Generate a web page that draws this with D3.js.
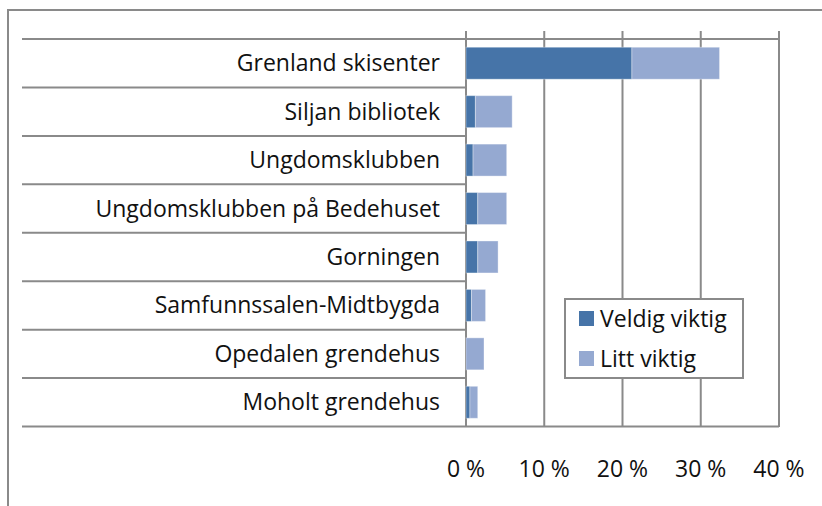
<!DOCTYPE html>
<html>
<head>
<meta charset="utf-8">
<script src="https://cdn.jsdelivr.net/npm/d3@7"></script>
<style>
  body { margin: 0; background: #fff; }
  text { font-family: "Open Sans", "Noto Sans", sans-serif; fill: #111; }
</style>
</head>
<body>
<div id="chart"></div>
<script>
var width = 822;
var height = 506;

// data (percent)
var categories = ["Grenland skisenter", "Siljan bibliotek", "Ungdomsklubben",
  "Ungdomsklubben på Bedehuset", "Gorningen", "Samfunnssalen-Midtbygda",
  "Opedalen grendehus", "Moholt grendehus"];
var veldigViktig = [21.2, 1.2, 0.9, 1.5, 1.5, 0.7, 0, 0.5];
var littViktig = [11.2, 4.7, 4.3, 3.7, 2.6, 1.8, 2.3, 1.0];
var seriesNames = ["Veldig viktig", "Litt viktig"];
var colors = ["#4674a8", "#95a9d1"];
var xTicks = [0, 10, 20, 30, 40];

var svg = d3.select("#chart")
  .append("svg")
  .attr("width", width)
  .attr("height", height)
  .style("display", "block");

var grid = "#8a8a8a";
var fontSize = "23px";

// outer chart frame (cut off at right and bottom)
svg.append("path")
  .attr("d", "M8,506 V10 H822")
  .attr("fill", "none")
  .attr("stroke", grid)
  .attr("stroke-width", 2);

var x = d3.scaleLinear().domain([0, 40]).range([466, 779]);
var y = d3.scaleBand().domain(categories).range([39, 426.5]).paddingInner(0.34).paddingOuter(0.17);
var step = y.step();

// vertical gridlines
svg.selectAll(".vgrid")
  .data(xTicks)
  .enter()
  .append("line")
  .attr("class", "vgrid")
  .attr("x1", d => x(d))
  .attr("x2", d => x(d))
  .attr("y1", 31)
  .attr("y2", 427)
  .attr("stroke", grid)
  .attr("stroke-width", 2);

// category dividers
var bounds = d3.range(categories.length + 1).map(i => 39 + i * step);
svg.selectAll(".hgrid")
  .data(bounds)
  .enter()
  .append("line")
  .attr("class", "hgrid")
  .attr("x1", 22)
  .attr("x2", (d, i) => (i === 0 || i === categories.length) ? x(40) : x(0))
  .attr("y1", d => d)
  .attr("y2", d => d)
  .attr("stroke", grid)
  .attr("stroke-width", 2);

// stacked bars
var rows = categories.map((c, i) => ({ name: c, v: [veldigViktig[i], littViktig[i]] }));
var stacked = d3.stack().keys([0, 1]).value((d, k) => d.v[k])(rows);

svg.selectAll(".series")
  .data(stacked)
  .enter()
  .append("g")
  .attr("fill", (d, i) => colors[i])
  .selectAll("rect")
  .data(d => d)
  .enter()
  .append("rect")
  .attr("x", d => x(d[0]))
  .attr("y", d => y(d.data.name))
  .attr("width", d => Math.max(0, x(d[1]) - x(d[0])))
  .attr("height", y.bandwidth())
  .attr("stroke", "rgba(255,255,255,0.35)")
  .attr("stroke-width", 1);

// category labels
svg.selectAll(".cat")
  .data(categories)
  .enter()
  .append("text")
  .attr("x", 440)
  .attr("y", d => y(d) + y.bandwidth() / 2)
  .attr("dy", "0.35em")
  .attr("text-anchor", "end")
  .style("font-size", fontSize)
  .text(d => d);

// x tick labels
svg.selectAll(".tick-label")
  .data(xTicks)
  .enter()
  .append("text")
  .attr("x", d => x(d))
  .attr("y", 477)
  .attr("text-anchor", "middle")
  .style("font-size", fontSize)
  .text(d => d + " %");

// legend
var legend = svg.append("g");
legend.append("rect")
  .attr("x", 565)
  .attr("y", 299)
  .attr("width", 178)
  .attr("height", 79)
  .attr("fill", "#fff")
  .attr("stroke", grid)
  .attr("stroke-width", 2);

seriesNames.forEach(function(s, i) {
  legend.append("rect")
    .attr("x", 579)
    .attr("y", 311 + i * 40)
    .attr("width", 15)
    .attr("height", 15)
    .attr("fill", colors[i]);
  legend.append("text")
    .attr("x", 600)
    .attr("y", 318.5 + i * 40)
    .attr("dy", "0.35em")
    .style("font-size", fontSize)
    .text(s);
});
</script>
</body>
</html>
